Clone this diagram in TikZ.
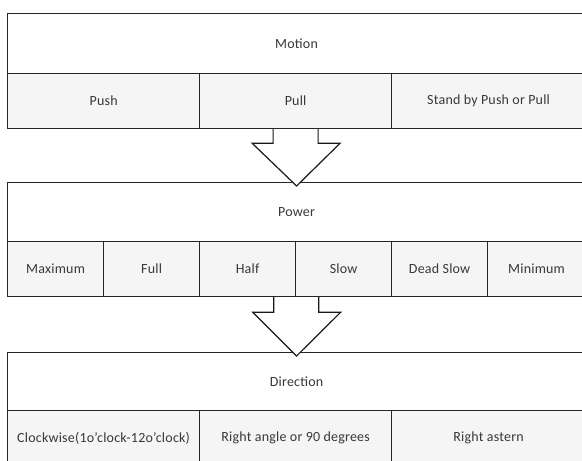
\documentclass[tikz,border=0pt]{standalone}
\usepackage{fontspec}
\setmainfont{Carlito}[LetterSpace=1.5]
\usetikzlibrary{calc}
\begin{document}
\begin{tikzpicture}[x=1pt,y=-1pt,
  cell/.style={draw=black!85, line width=1.2pt, fill=black!4, inner sep=0pt,
    anchor=north west, text=black!78, font=\fontsize{14}{17}\selectfont},
  head/.style={cell, fill=white},
  blockarrow/.style={draw=black!90, line width=1.2pt, fill=white, line join=miter}]
\fill[white] (0,0) rectangle (582,461);
\useasboundingbox (0,0) rectangle (582,461);
\clip (0,0) rectangle (582,461);
% Motion
\node[head, minimum width=578pt, minimum height=60pt] (motion) at (7,13) {Motion};
\node[cell, minimum width=192pt, minimum height=55pt] (push) at (7,73) {Push};
\node[cell, minimum width=192pt, minimum height=55pt] (pull) at (199,73) {Pull};
\node[cell, minimum width=194pt, minimum height=55pt] (stand) at (391,73) {Stand by Push or Pull};
% Power
\node[head, minimum width=578pt, minimum height=59pt] (power) at (7,182) {Power};
\node[cell, minimum width=96pt, minimum height=55pt] (maxi) at (7,241) {Maximum};
\node[cell, minimum width=96pt, minimum height=55pt] (full) at (103,241) {Full};
\node[cell, minimum width=96pt, minimum height=55pt] (half) at (199,241) {Half};
\node[cell, minimum width=96pt, minimum height=55pt] (slow) at (295,241) {Slow};
\node[cell, minimum width=96pt, minimum height=55pt] (dead) at (391,241) {Dead Slow};
\node[cell, minimum width=98pt, minimum height=55pt] (mini) at (487,241) {Minimum};
% Direction
\node[head, minimum width=578pt, minimum height=58pt] (direction) at (7,352) {Direction};
\node[cell, minimum width=192pt, minimum height=55pt] (clock) at (7,410) {Clockwise(1o'clock-12o'clock)};
\node[cell, minimum width=192pt, minimum height=55pt] (right) at (199,410) {Right angle or 90 degrees};
\node[cell, minimum width=194pt, minimum height=55pt] (astern) at (391,410) {Right astern};
% block arrows
\draw[blockarrow] ($(pull.south)+(-22.5,0)$) -- ++(0,14) -- ++(-21,0)
  -- ($(power.north)+(0,4)$) -- ($(pull.south)+(44.5,14)$) -- ++(-22,0)
  -- ($(pull.south)+(22.5,0)$);
\draw[blockarrow] ($(half.south east)+(-22.5,0)$) -- ++(0,15) -- ++(-21,0)
  -- ($(direction.north)+(0,4)$) -- ($(half.south east)+(44.5,15)$) -- ++(-22,0)
  -- ($(half.south east)+(22.5,0)$);
\end{tikzpicture}
\end{document}
